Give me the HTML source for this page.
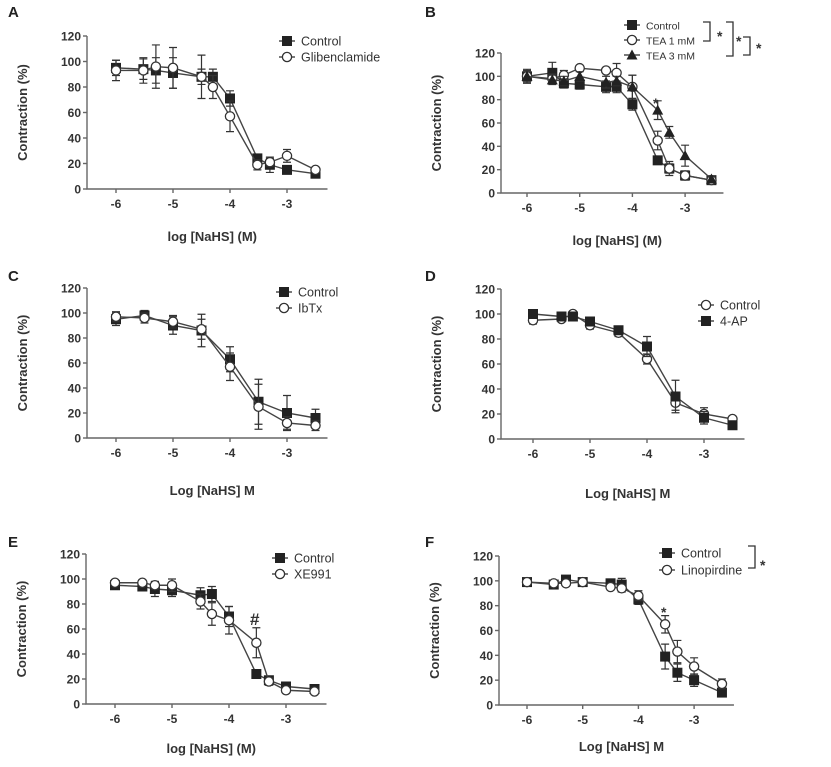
<!DOCTYPE html>
<html><head><meta charset="utf-8"><style>
html,body{margin:0;padding:0;background:#fff;}
svg{display:block;font-family:"Liberation Sans",Arial,sans-serif;}
</style></head><body>
<svg id="s" width="831" height="767" viewBox="0 0 831 767" xmlns="http://www.w3.org/2000/svg"></svg>
<script>
const S=document.getElementById('s');let h='';
const X11=[-6,-5.52,-5.3,-5,-4.5,-4.3,-4,-3.52,-3.3,-3,-2.5];
const X8=[-6,-5.5,-5,-4.5,-4,-3.5,-3,-2.5];
const X9=[-6,-5.5,-5.3,-5,-4.5,-4,-3.5,-3,-2.5];
function panel(p){
 const ax=p.ax,y0=p.y0,y120=p.y120,x6=p.x6,dec=p.dec;
 const sx=v=>x6+(v+6)*dec, sy=v=>y0-(y0-y120)*v/120;
 const xend=sx(-2.5)+12;
 h+=`<text x="${p.lx}" y="${p.ly}" font-size="15" font-weight="bold" fill="#222">${p.L}</text>`;
 h+=`<path d="M${ax} ${y120}V${y0}H${xend}" stroke="#666" stroke-width="1.4" fill="none"/>`;
 for(let v=0;v<=120;v+=20){const y=sy(v);h+=`<path d="M${ax-4} ${y}H${ax}" stroke="#666" stroke-width="1.4"/><text x="${ax-6}" y="${y+4.5}" text-anchor="end" font-size="12" font-weight="bold" fill="#333">${v}</text>`;}
 for(let d=-6;d<=-3;d++){const x=sx(d);h+=`<path d="M${x} ${y0}V${y0+4}" stroke="#666" stroke-width="1.4"/><text x="${x}" y="${y0+19}" text-anchor="middle" font-size="12" font-weight="bold" fill="#333">${d}</text>`;}
 const cy=(y0+y120)/2;
 h+=`<text transform="translate(${ax-60},${cy}) rotate(-90)" text-anchor="middle" font-size="13" font-weight="bold" fill="#333">Contraction (%)</text>`;
 h+=`<text x="${(ax+xend)/2+5}" y="${p.xly}" text-anchor="middle" font-size="13" font-weight="bold" fill="#333">${p.xl}</text>`;
 p.series.forEach(s=>{
  const pts=s.y.map((v,i)=>[sx(s.x[i]),sy(v)]);
  h+=`<polyline points="${pts.map(q=>q.join(',')).join(' ')}" fill="none" stroke="#444" stroke-width="1.4"/>`;
  pts.forEach((q,i)=>{const e=(s.e?s.e[i]:4)*(y0-y120)/120;if(e>2)h+=`<path d="M${q[0]} ${q[1]-e}V${q[1]+e}M${q[0]-4} ${q[1]-e}h8M${q[0]-4} ${q[1]+e}h8" stroke="#333" stroke-width="1.2"/>`;});
  pts.forEach(q=>h+=mk(s.m,q[0],q[1]));
 });
 p.leg.forEach((l,i)=>{const y=p.legy+i*p.legdy;h+=`<path d="M${p.legx-8} ${y}h16" stroke="#333" stroke-width="1.3"/>`+mk(l[0],p.legx,y)+`<text x="${p.legx+14}" y="${y+4.5}" font-size="${p.lfs||12.5}" fill="#333">${l[1]}</text>`;});
}
function mk(m,x,y){
 if(m=='s')return `<rect x="${x-5}" y="${y-5}" width="10" height="10" fill="#222"/>`;
 if(m=='o')return `<circle cx="${x}" cy="${y}" r="4.6" fill="#fff" stroke="#333" stroke-width="1.3"/>`;
 return `<path d="M${x} ${y-5.5}L${x+5.5} ${y+4.5}H${x-5.5}Z" fill="#222"/>`;
}
panel({L:'A',lx:8,ly:17,ax:87,y0:189,y120:36,x6:116,dec:57,xl:'log [NaHS] (M)',xly:241,
 series:[{m:'s',x:X11,y:[95,94,93,91,88,88,71,24,19,15,12],e:[6,8,10,12,6,6,6,3,6,2,2]},
 {m:'o',x:X11,y:[93,93,96,95,88,80,57,19,21,26,15],e:[8,10,17,16,17,9,12,4,3,5,2]}],
 legx:287,legy:41,legdy:16,leg:[['s','Control'],['o','Glibenclamide']]});
panel({L:'B',lx:425,ly:17,ax:501,y0:193,y120:53,x6:527,dec:52.7,xl:'log [NaHS] (M)',xly:245,
 series:[{m:'s',x:X11,y:[100,103,94,93,91,91,76,28,21,15,11],e:[6,9,4,4,5,5,5,3,6,3,2]},
 {m:'o',x:X11,y:[100,98,101,107,105,103,91,45,21,15,11],e:[5,4,4,2,2,8,10,8,4,4,2]},
 {m:'t',x:X11,y:[100,97,96,100,95,96,91,71,52,32,12],e:[4,4,4,4,5,4,10,8,5,9,2]}],
 legx:632,legy:25,legdy:15,lfs:10.5,leg:[['s','Control'],['o','TEA 1 mM'],['t','TEA 3 mM']]});
h+=`<path d="M703 22h7v19h-7M726 22h7v34h-7M743 37h7v18h-7" stroke="#333" stroke-width="1.3" fill="none"/>
<text x="717" y="41" font-size="14" font-weight="bold" fill="#333">*</text><text x="736" y="46" font-size="14" font-weight="bold" fill="#333">*</text><text x="756" y="53" font-size="14" font-weight="bold" fill="#333">*</text>
<text x="653" y="108" font-size="14" font-weight="bold" fill="#333">*</text>`;
panel({L:'C',lx:8,ly:281,ax:87,y0:438,y120:288,x6:116,dec:57,xl:'Log [NaHS] M',xly:495,
 series:[{m:'s',x:X8,y:[95,98,90,86,63,29,20,16],e:[5,4,7,13,10,18,14,7]},
 {m:'o',x:X8,y:[97,96,93,87,57,25,12,10],e:[4,4,5,8,11,18,5,4]}],
 legx:284,legy:292,legdy:16,leg:[['s','Control'],['o','IbTx']]});
panel({L:'D',lx:425,ly:281,ax:501,y0:439,y120:289,x6:533,dec:57,xl:'Log [NaHS] M',xly:498,
 series:[{m:'o',x:X9,y:[95,96,100,91,85,64,29,20,16],e:[3,2,2,3,3,4,6,5,2]},
 {m:'s',x:X9,y:[100,98,98,94,87,74,34,17,11],e:[3,3,3,3,3,8,13,5,2]}],
 legx:706,legy:305,legdy:16,leg:[['o','Control'],['s','4-AP']]});
panel({L:'E',lx:8,ly:547,ax:86,y0:704,y120:554,x6:115,dec:57,xl:'log [NaHS] (M)',xly:753,
 series:[{m:'s',x:X11,y:[95,94,92,91,87,88,70,24,19,14,12],e:[2,3,6,5,6,6,8,3,3,3,2]},
 {m:'o',x:X11,y:[97,97,95,95,82,72,67,49,18,11,10],e:[2,2,3,5,6,9,11,12,3,2,2]}],
 legx:280,legy:558,legdy:16,leg:[['s','Control'],['o','XE991']]});
h+=`<text x="250" y="625" font-size="17" font-weight="bold" fill="#333">#</text>`;
panel({L:'F',lx:425,ly:547,ax:499,y0:705,y120:556,x6:527,dec:55.7,xl:'Log [NaHS] M',xly:751,
 series:[{m:'s',x:X11,y:[99,97,101,99,98,97,85,39,26,20,10],e:[2,2,3,2,3,5,4,10,7,5,2]},
 {m:'o',x:X11,y:[99,98,98,99,95,94,88,65,43,31,17],e:[2,2,2,2,2,3,4,7,9,7,4]}],
 legx:667,legy:553,legdy:17,leg:[['s','Control'],['o','Linopirdine']]});
h+=`<path d="M748 546h7v22h-7" stroke="#333" stroke-width="1.3" fill="none"/><text x="760" y="570" font-size="14" font-weight="bold" fill="#333">*</text>
<text x="661" y="617" font-size="14" font-weight="bold" fill="#333">*</text>`;
S.innerHTML=h;
</script>
</body></html>
